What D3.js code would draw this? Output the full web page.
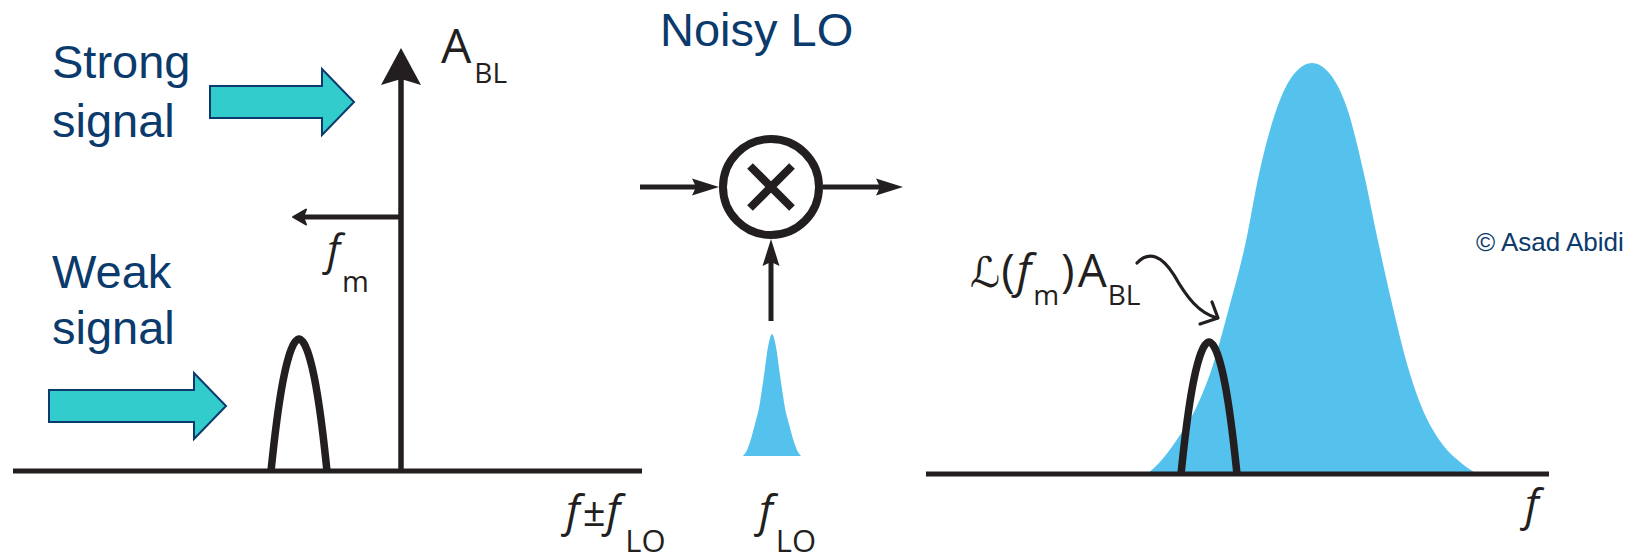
<!DOCTYPE html>
<html>
<head>
<meta charset="utf-8">
<script src="https://cdn.jsdelivr.net/npm/d3@7"></script>
<style>
  html, body { margin: 0; padding: 0; background: #ffffff; }
  svg { display: block; }
</style>
</head>
<body>
<svg id="chart" width="1649" height="554"></svg>
<script>
// ---------------- data ----------------
// Left panel (input spectrum): frequency axis in arbitrary units, amplitude in arbitrary units
const leftAxis = [0, 629];            // frequency extent of the left axis
const blockerFreq = 388;              // strong blocker position
const blockerAmp = 423;               // blocker amplitude (arrow height)
const fmArrowAmp = 254;               // height of the f_m offset arrow
const fmArrowTo = 280;                // frequency where the f_m arrow ends
const weakFreq = 286;                 // weak signal centre

// Signal bump profile (offset from centre, height)
const bumpOffset = [-28, -24, -20, -16, -12, -8, -4, 0, 4, 8, 12, 16, 20, 24, 28];
const bumpHeight = [0, 36, 66, 90, 108, 121, 129, 132, 129, 121, 108, 90, 66, 36, 0];

// Noisy LO peak profile (offset from centre, height)
const loOffset = [-29, -25, -22, -17, -13, -10, -7, -5, -3, 0, 3, 5, 7, 10, 13, 17, 22, 25, 29];
const loHeight = [0, 6, 14, 32, 48, 67, 88, 103, 114, 122, 114, 103, 88, 67, 48, 32, 14, 6, 0];

// Right panel (output spectrum)
const rightAxis = [0, 623];
const carrierFreq = 386;              // centre of the reciprocal-mixed LO noise
const weakOutFreq = 283;              // down-converted weak signal
const noiseOffset = [-165, -152, -136, -116, -102, -83, -66, -53, -35, -18, 0, 18, 35, 52, 66, 81, 98, 110, 128, 148, 165];
const noiseHeight = [0, 12, 33, 66, 100, 166, 233, 300, 366, 400, 411, 400, 366, 300, 233, 166, 100, 66, 33, 12, 0];

// Text labels
const leftTexts = ["Strong", "signal", "Weak", "signal"];
const titleText = "Noisy LO";
const creditText = "\u00A9 Asad Abidi";

// ---------------- layout ----------------
const svg = d3.select("#chart");
const NAVY = "#0b3a6c";
const TEAL = "#33cccc";
const INK = "#231f20";
const SKY = "#55c2ee";
const MATH = "'Open Sans', 'Noto Sans', 'DejaVu Sans', sans-serif";
const SANS = "'Liberation Sans', Arial, sans-serif";

// Scales
const xL = d3.scaleLinear().domain(leftAxis).range([13, 642]);
const yL = d3.scaleLinear().domain([0, blockerAmp]).range([471, 48]);
const xM = d3.scaleLinear().domain([-28, 28]).range([744, 800]);
const yM = d3.scaleLinear().domain([0, 122]).range([456, 334]);
const xR = d3.scaleLinear().domain(rightAxis).range([926, 1549]);
const yR = d3.scaleLinear().domain([0, 411]).range([474, 63]);
const yR2 = d3.scaleLinear().domain([0, 132]).range([474, 342]);

// ---------- navy text ----------
const textRows = [
  { t: leftTexts[0], y: 78 },
  { t: leftTexts[1], y: 137 },
  { t: leftTexts[2], y: 288 },
  { t: leftTexts[3], y: 344 }
];
svg.selectAll("text.side").data(textRows).enter().append("text")
  .attr("class", "side")
  .attr("x", 52).attr("y", d => d.y)
  .attr("font-family", SANS).attr("font-size", 47)
  .attr("fill", NAVY).text(d => d.t);

svg.append("text").attr("x", 660).attr("y", 46)
  .attr("font-family", SANS).attr("font-size", 47)
  .attr("fill", NAVY).text(titleText);

svg.append("text").attr("x", 1476).attr("y", 251)
  .attr("font-family", SANS).attr("font-size", 26)
  .attr("fill", NAVY).text(creditText);

// ---------- teal block arrows ----------
function blockArrow(x0, xHead, xTip, yc, bodyHalf, headHalf) {
  return [[x0, yc - bodyHalf], [xHead, yc - bodyHalf], [xHead, yc - headHalf], [xTip, yc],
          [xHead, yc + headHalf], [xHead, yc + bodyHalf], [x0, yc + bodyHalf]];
}
const blockArrows = [
  blockArrow(210, 322, 354, 102, 16, 33),
  blockArrow(49, 194, 226, 406, 16, 33)
];
svg.selectAll("polygon.block").data(blockArrows).enter().append("polygon")
  .attr("class", "block")
  .attr("points", d => d.map(p => p.join(",")).join(" "))
  .attr("fill", TEAL).attr("stroke", NAVY).attr("stroke-width", 2)
  .attr("stroke-linejoin", "miter");

// ---------- math label helper (runs of text flowing in one element) ----------
// parts: [text, size, italic, dy, dx, family]
function mathLabel(g, x, y, parts, family) {
  const t = g.append("text").attr("x", x).attr("y", y)
    .attr("font-family", family || MATH).attr("fill", INK);
  parts.forEach(p => {
    const s = t.append("tspan").attr("font-size", p[1])
      .attr("font-style", p[2] ? "italic" : "normal").text(p[0]);
    if (p[3]) s.attr("dy", p[3]);
    if (p[4]) s.attr("dx", p[4]);
    if (p[5]) s.attr("font-family", p[5]);
  });
  return t;
}

// ---------- left panel ----------
const gL = svg.append("g");
gL.append("line")
  .attr("x1", xL(leftAxis[0])).attr("x2", xL(leftAxis[1]))
  .attr("y1", yL(0)).attr("y2", yL(0))
  .attr("stroke", INK).attr("stroke-width", 5);

// blocker arrow
const bx = xL(blockerFreq);
gL.append("line")
  .attr("x1", bx).attr("x2", bx)
  .attr("y1", yL(0)).attr("y2", yL(blockerAmp) + 30)
  .attr("stroke", INK).attr("stroke-width", 5.5);
const tipY = yL(blockerAmp);
gL.append("path")
  .attr("d", `M${bx},${tipY} L${bx + 20},${tipY + 37} L${bx},${tipY + 31} L${bx - 20},${tipY + 37} Z`)
  .attr("fill", INK);

// f_m arrow
const fy = yL(fmArrowAmp);
const fx = xL(fmArrowTo);
gL.append("line")
  .attr("x1", bx).attr("x2", fx + 6)
  .attr("y1", fy).attr("y2", fy)
  .attr("stroke", INK).attr("stroke-width", 5);
gL.append("path")
  .attr("d", `M${fx},${fy} L${fx + 13},${fy - 7.5} L${fx + 10},${fy} L${fx + 13},${fy + 7.5} Z`)
  .attr("fill", INK).attr("stroke", INK).attr("stroke-width", 2).attr("stroke-linejoin", "round");

// weak signal bump
const bumpPts = bumpOffset.map((o, i) => [o, bumpHeight[i]]);
const bumpLineL = d3.line()
  .x(d => xL(weakFreq + d[0])).y(d => yL(d[1]))
  .curve(d3.curveCatmullRom.alpha(0.5));
gL.append("path").attr("d", bumpLineL(bumpPts))
  .attr("fill", "none").attr("stroke", INK).attr("stroke-width", 7.5);

// labels left
mathLabel(gL, 441, 63, [["A", 48, false], ["BL", 28, false, 20, 3]]);
mathLabel(gL, 327, 265, [["f", 42, true], ["m", 29, false, 27, 2]]);
mathLabel(gL, 566, 526, [["f", 44, true], ["\u00B1", 40, false, 0, 3], ["f", 44, true, 0, 1], ["LO", 31, false, 26, 5]]);

// ---------- mixer ----------
const gM = svg.append("g");
const cx = 771, cy = 187, r = 48;
gM.append("circle").attr("cx", cx).attr("cy", cy).attr("r", r)
  .attr("fill", "none").attr("stroke", INK).attr("stroke-width", 8);
gM.append("path")
  .attr("d", `M${cx - 21},${cy - 21} L${cx + 21},${cy + 21} M${cx + 21},${cy - 21} L${cx - 21},${cy + 21}`)
  .attr("stroke", INK).attr("stroke-width", 8);

function arrowHead(g, tx, ty, dir) {
  // dir: "right" or "up"
  const L = 27, H = 8.5, N = 4;
  let d;
  if (dir === "right") d = `M${tx},${ty} L${tx - L},${ty - H} L${tx - L + N},${ty} L${tx - L},${ty + H} Z`;
  else d = `M${tx},${ty} L${tx - H},${ty + L} L${tx},${ty + L - N} L${tx + H},${ty + L} Z`;
  g.append("path").attr("d", d).attr("fill", INK);
}
gM.append("line").attr("x1", 640).attr("x2", 700).attr("y1", cy).attr("y2", cy)
  .attr("stroke", INK).attr("stroke-width", 5);
arrowHead(gM, cx - r - 4, cy, "right");
gM.append("line").attr("x1", cx + r + 4).attr("x2", 885).attr("y1", cy).attr("y2", cy)
  .attr("stroke", INK).attr("stroke-width", 5);
arrowHead(gM, 903, cy, "right");
gM.append("line").attr("x1", cx).attr("x2", cx).attr("y1", 321).attr("y2", 260)
  .attr("stroke", INK).attr("stroke-width", 5);
arrowHead(gM, cx, cy + r + 4, "up");

// LO peak
const loPts = loOffset.map((o, i) => [o, loHeight[i]]);
const loArea = d3.area()
  .x(d => xM(d[0])).y0(yM(0)).y1(d => yM(d[1]))
  .curve(d3.curveMonotoneX);
gM.append("path").attr("d", loArea(loPts)).attr("fill", SKY);

mathLabel(gM, 759, 526, [["f", 44, true], ["LO", 31, false, 26, 3]]);

// ---------- right panel ----------
const gR = svg.append("g");
const noisePts = noiseOffset.map((o, i) => [o, noiseHeight[i]]);
const noiseArea = d3.area()
  .x(d => xR(carrierFreq + d[0])).y0(yR(0)).y1(d => yR(d[1]))
  .curve(d3.curveMonotoneX);
gR.append("path").attr("d", noiseArea(noisePts)).attr("fill", SKY);

gR.append("line")
  .attr("x1", xR(rightAxis[0])).attr("x2", xR(rightAxis[1]))
  .attr("y1", yR(0)).attr("y2", yR(0))
  .attr("stroke", INK).attr("stroke-width", 5);

const bumpLineR = d3.line()
  .x(d => xR(weakOutFreq + d[0])).y(d => yR2(d[1]))
  .curve(d3.curveCatmullRom.alpha(0.5));
gR.append("path").attr("d", bumpLineR(bumpPts))
  .attr("fill", "none").attr("stroke", INK).attr("stroke-width", 7.5);

// curly pointer arrow
gR.append("path")
  .attr("d", "M1137,263 C1149,250 1162,256 1174,275 C1187,298 1199,313 1217,318")
  .attr("fill", "none").attr("stroke", INK).attr("stroke-width", 3.2).attr("stroke-linecap", "round");
gR.append("path")
  .attr("d", "M1212,302 L1218,318 L1200,324")
  .attr("fill", "none").attr("stroke", INK).attr("stroke-width", 3.2)
  .attr("stroke-linecap", "round").attr("stroke-linejoin", "round");

// L(f_m)A_BL label
mathLabel(gR, 970, 287, [
  ["\u2112", 42, false, 0, 0, "'DejaVu Sans', sans-serif"],
  ["(", 46, false, 0, 1],
  ["f", 46, true, 0, 2],
  ["m", 28, false, 18, 2],
  [")", 46, false, -18, 2],
  ["A", 46, false, 0, 3],
  ["BL", 28, false, 18, 1]
]);

mathLabel(gR, 1525, 520, [["f", 44, true]]);
</script>
</body>
</html>
